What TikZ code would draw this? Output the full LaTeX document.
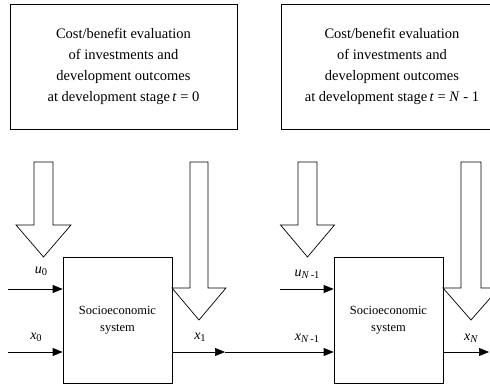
\documentclass[tikz,border=0pt]{standalone}
\usepackage{fontspec}
\setmainfont{Liberation Serif}
\usetikzlibrary{arrows.meta}
\tikzset{
  evalbox/.style={draw, line width=0.7pt, align=center, font=\fontsize{14.5}{21}\selectfont, inner sep=0pt},
  sysbox/.style={draw, line width=0.7pt, align=center, font=\fontsize{12.5}{17}\selectfont, inner sep=0pt, minimum width=109pt, minimum height=126pt},
  lbl/.style={font=\fontsize{14}{15}\selectfont, inner sep=0pt},
  flow/.style={line width=0.7pt, -{Triangle[length=10pt,width=8pt]}},
  fat/.style={line width=0.7pt, fill=white, line join=miter}
}
\newcommand{\sbs}[1]{\raisebox{-0.35ex}{\fontsize{10.5}{12}\selectfont #1}}
\newcommand{\fatarrow}[6]{% center x, shaft half width, head half width, top, shaft bottom, tip
  \draw[fat] ({#1-#2},#4) -- ({#1+#2},#4) -- ({#1+#2},#5) -- ({#1+#3},#5) -- (#1,#6) -- ({#1-#3},#5) -- ({#1-#2},#5) -- cycle;}
\begin{document}
\begin{tikzpicture}[x=1pt,y=-1pt]
\clip (0,0) rectangle (490,387);
\fill[white] (0,0) rectangle (490,387);
% evaluation boxes
\node[evalbox, minimum width=227pt, minimum height=125pt] (eval1) at (123.5,66.5)
  {Cost/benefit evaluation\\of investments and\\development outcomes\\at development stage\,\textit{t} = 0};
\node[evalbox, minimum width=222pt, minimum height=125pt] (eval2) at (392,66.5)
  {Cost/benefit evaluation\\of investments and\\development outcomes\\at development stage\,\textit{t} = \textit{N} - 1};
% socioeconomic systems
\node[sysbox] (sys1) at (117.5,320) {Socioeconomic\\system};
\node[sysbox] (sys2) at (388.5,320) {Socioeconomic\\system};
% hollow arrows
\fatarrow{43.5}{9.5}{27.5}{162}{225}{257}
\fatarrow{199}{9}{27}{162}{288}{320}
\fatarrow{307.5}{9.5}{27}{162}{225}{257}
\fatarrow{471}{10}{28}{162}{288}{320}
% inputs
\coordinate (u0in) at (8,289);
\coordinate (x0in) at (8,352);
\coordinate (uNin) at (280,289);
\coordinate (mid) at (225,352);
\coordinate (xNout) at (489,352);
\draw[flow] (u0in) -- (u0in -| sys1.west);
\draw[flow] (x0in) -- (x0in -| sys1.west);
\draw[flow] (mid -| sys1.east) -- (mid);
\draw[flow] (mid) -- (mid -| sys2.west);
\draw[flow] (uNin) -- (uNin -| sys2.west);
\draw[flow] (xNout -| sys2.east) -- (xNout);
% labels
\node[lbl] (lu0) at (41,271) {\textit{u}\sbs{0}};
\node[lbl] (lx0) at (36,337) {\textit{x}\sbs{0}};
\node[lbl] (lx1) at (200,337) {\textit{x}\sbs{1}};
\node[lbl] (luN) at (307,274) {\textit{u}\sbs{\textit{N}\,-1}};
\node[lbl] (lxN1) at (307,338) {\textit{x}\sbs{\textit{N}\,-1}};
\node[lbl] (lxN) at (471,338) {\textit{x}\sbs{\textit{N}}};
\end{tikzpicture}
\end{document}
